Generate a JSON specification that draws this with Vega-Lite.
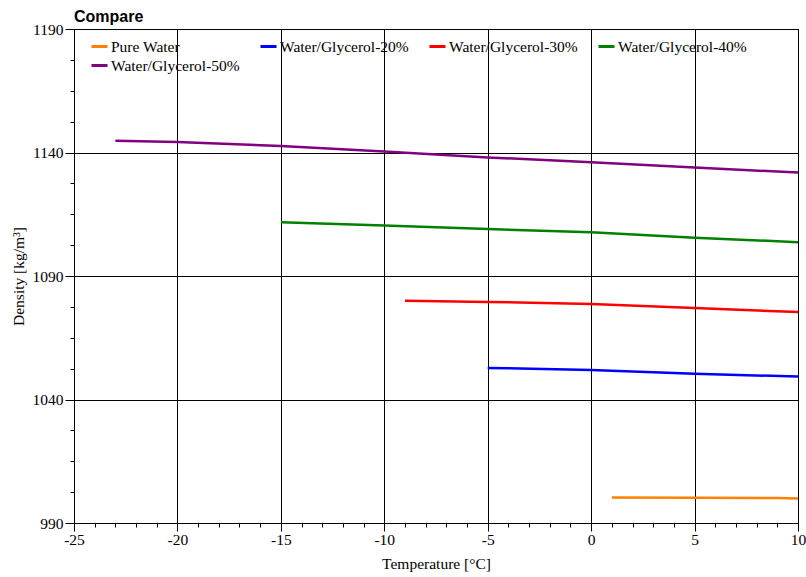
{
  "$schema": "https://vega.github.io/schema/vega-lite/v6.json",
  "width": 724,
  "height": 494,
  "autosize": {"type": "none"},
  "padding": {"left": 74, "top": 29, "right": 8, "bottom": 54},
  "background": "white",
  "title": {"text": "Compare", "anchor": "start", "frame": "group", "font": "Liberation Sans", "fontSize": 16, "fontWeight": "bold", "color": "#000", "offset": -3},
  "config": {
    "view": {"stroke": "#000", "strokeWidth": 1},
    "axis": {"labelFont": "Liberation Serif", "titleFont": "Liberation Serif", "labelFontSize": 15.5, "titleFontSize": 15.5, "titleFontWeight": "normal", "labelColor": "#000", "titleColor": "#000", "domainColor": "#000", "tickColor": "#000", "gridColor": "#000", "gridOpacity": 1, "gridWidth": 1}
  },
  "data": {"values": [
    {"series": "Pure Water", "T": 1, "rho": 1000.3},
    {"series": "Pure Water", "T": 5, "rho": 1000.2},
    {"series": "Pure Water", "T": 9, "rho": 1000.1},
    {"series": "Pure Water", "T": 10, "rho": 999.9},
    {"series": "Water/Glycerol-20%", "T": -5, "rho": 1052.8},
    {"series": "Water/Glycerol-20%", "T": 0, "rho": 1051.9},
    {"series": "Water/Glycerol-20%", "T": 5, "rho": 1050.4},
    {"series": "Water/Glycerol-20%", "T": 10, "rho": 1049.3},
    {"series": "Water/Glycerol-30%", "T": -9, "rho": 1080.0},
    {"series": "Water/Glycerol-30%", "T": -5, "rho": 1079.5},
    {"series": "Water/Glycerol-30%", "T": 0, "rho": 1078.7},
    {"series": "Water/Glycerol-30%", "T": 5, "rho": 1077.0},
    {"series": "Water/Glycerol-30%", "T": 10, "rho": 1075.4},
    {"series": "Water/Glycerol-40%", "T": -15, "rho": 1111.8},
    {"series": "Water/Glycerol-40%", "T": -10, "rho": 1110.4},
    {"series": "Water/Glycerol-40%", "T": -5, "rho": 1109.0},
    {"series": "Water/Glycerol-40%", "T": 0, "rho": 1107.7},
    {"series": "Water/Glycerol-40%", "T": 5, "rho": 1105.5},
    {"series": "Water/Glycerol-40%", "T": 10, "rho": 1103.7},
    {"series": "Water/Glycerol-50%", "T": -23, "rho": 1144.8},
    {"series": "Water/Glycerol-50%", "T": -20, "rho": 1144.3},
    {"series": "Water/Glycerol-50%", "T": -15, "rho": 1142.6},
    {"series": "Water/Glycerol-50%", "T": -10, "rho": 1140.4},
    {"series": "Water/Glycerol-50%", "T": -5, "rho": 1138.0},
    {"series": "Water/Glycerol-50%", "T": 0, "rho": 1136.1},
    {"series": "Water/Glycerol-50%", "T": 5, "rho": 1133.9},
    {"series": "Water/Glycerol-50%", "T": 10, "rho": 1131.9}
  ]},
  "layer": [
    {
      "mark": {"type": "line", "strokeWidth": 2.5},
      "encoding": {
        "x": {"field": "T", "type": "quantitative", "scale": {"domain": [-25, 10], "nice": false, "zero": false},
          "axis": {"title": "Temperature [°C]", "values": [-25, -20, -15, -10, -5, 0, 5, 10], "labelExpr": "datum.value + ''", "grid": true, "tickSize": 8, "labelPadding": 1, "titlePadding": 9, "labelFlush": false}},
        "y": {"field": "rho", "type": "quantitative", "scale": {"domain": [990, 1190], "nice": false, "zero": false},
          "axis": {"title": "Density [kg/m³]", "values": [990, 1040, 1090, 1140, 1190], "labelExpr": "datum.value + ''", "grid": true, "tickSize": 9, "labelPadding": 2, "titlePadding": 6, "labelFlush": false}},
        "color": {"field": "series", "type": "nominal",
          "scale": {"domain": ["Pure Water", "Water/Glycerol-20%", "Water/Glycerol-30%", "Water/Glycerol-40%", "Water/Glycerol-50%"], "range": ["#FF8000", "#0000FF", "#FF0000", "#008000", "#800080"]},
          "legend": {"title": null, "orient": "none", "legendX": 16, "legendY": 8, "columns": 4, "direction": "horizontal", "symbolType": "stroke", "symbolSize": 256, "symbolStrokeWidth": 3, "labelFont": "Liberation Serif", "labelFontSize": 15.5, "labelColor": "#000", "labelLimit": 300, "labelOffset": 2, "columnPadding": 14, "rowPadding": 1, "fillColor": null, "strokeColor": null}}
      }
    },
    {
      "mark": {"type": "line", "opacity": 0},
      "encoding": {
        "x": {"field": "T", "type": "quantitative",
          "axis": {"title": null, "labels": false, "domain": false, "grid": false, "tickSize": 4, "orient": "bottom", "values": [-25,-24,-23,-22,-21,-20,-19,-18,-17,-16,-15,-14,-13,-12,-11,-10,-9,-8,-7,-6,-5,-4,-3,-2,-1,0,1,2,3,4,5,6,7,8,9,10]}},
        "y": {"field": "rho", "type": "quantitative",
          "axis": {"title": null, "labels": false, "domain": false, "grid": false, "tickSize": 4, "orient": "left", "values": [990, 1002.5, 1015, 1027.5, 1040, 1052.5, 1065, 1077.5, 1090, 1102.5, 1115, 1127.5, 1140, 1152.5, 1165, 1177.5, 1190]}},
        "detail": {"field": "series"}
      }
    }
  ],
  "resolve": {"axis": {"x": "independent", "y": "independent"}}
}
